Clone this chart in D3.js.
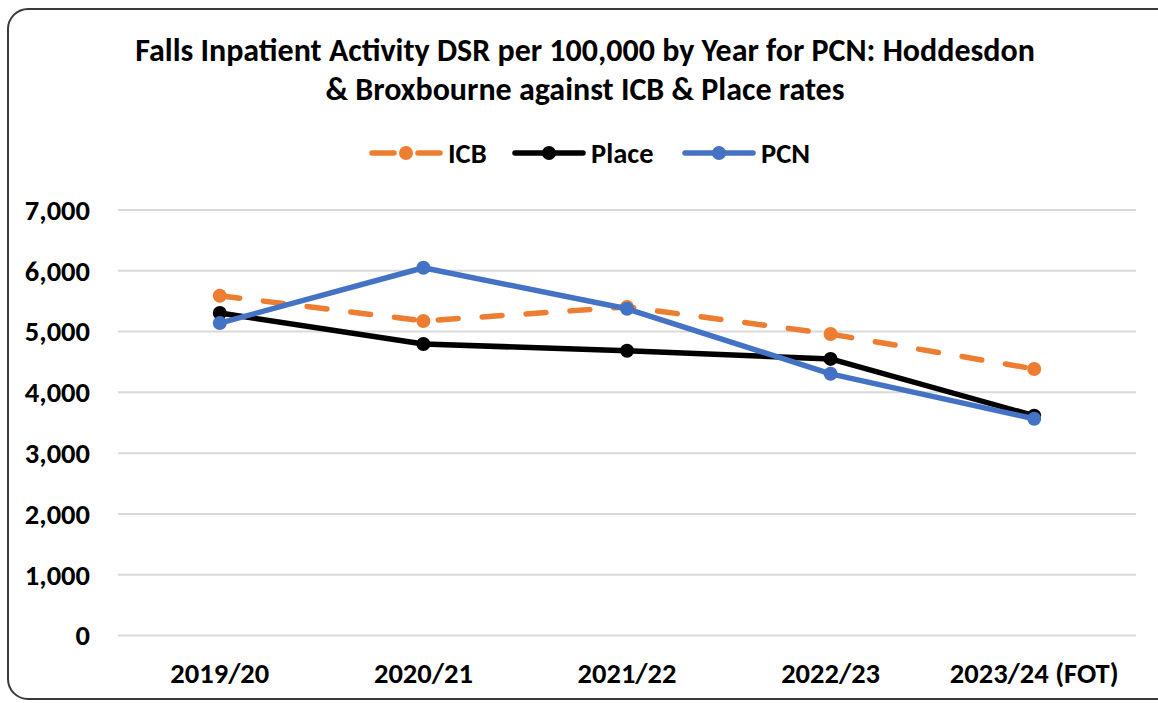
<!DOCTYPE html>
<html>
<head>
<meta charset="utf-8">
<script src="https://cdn.jsdelivr.net/npm/d3@7"></script>
<style>
  body { margin: 0; background: #fff; }
  text { font-family: Carlito, Calibri, "DejaVu Sans Condensed", "Liberation Sans Narrow", sans-serif; font-weight: bold; fill: #000; }
</style>
</head>
<body>
<div id="chart"></div>
<script>
// chart data
var years = ['2019/20', '2020/21', '2021/22', '2022/23', '2023/24 (FOT)'];
var icbRates = [5590, 5175, 5405, 4960, 4385];
var placeRates = [5305, 4795, 4685, 4550, 3615];
var pcnRates = [5140, 6050, 5375, 4305, 3565];
var yTicks = [0, 1000, 2000, 3000, 4000, 5000, 6000, 7000];

var seriesNames = ['ICB', 'Place', 'PCN'];
var seriesColors = ['#ed7d31', '#000000', '#4472c4'];
var seriesValues = [icbRates, placeRates, pcnRates];

var svgWidth = 1158;
var svgHeight = 703;

var chartMargins = { top: 210, right: 22, bottom: 67, left: 118 };
var chartWidth = svgWidth - chartMargins.left - chartMargins.right;
var chartHeight = svgHeight - chartMargins.top - chartMargins.bottom;

var svg = d3.select('#chart')
    .append('svg')
    .attr('width', svgWidth)
    .attr('height', svgHeight);

// outer rounded border
svg.append('rect')
    .attr('x', 8)
    .attr('y', 9)
    .attr('width', 1170)
    .attr('height', 690)
    .attr('rx', 20)
    .attr('fill', 'none')
    .attr('stroke', '#3a3a3a')
    .attr('stroke-width', 2);

// title
var title = svg.append('text')
    .attr('text-anchor', 'middle')
    .style('font-size', '32px');
title.append('tspan').attr('x', 585).attr('y', 61)
    .text('Falls Inpatient Activity DSR per 100,000 by Year for PCN: Hoddesdon');
title.append('tspan').attr('x', 585).attr('y', 100)
    .text('& Broxbourne against ICB & Place rates');

// legend
var legendX = [370, 513, 683];
var legend = svg.selectAll('.legend')
    .data(seriesNames)
    .enter()
    .append('g')
    .attr('class', 'legend')
    .attr('transform', function(d, i) { return 'translate(' + legendX[i] + ',153)'; });

legend.append('line')
    .attr('x1', 2).attr('x2', 70)
    .attr('stroke', function(d, i) { return seriesColors[i]; })
    .attr('stroke-width', 5.5)
    .attr('stroke-linecap', 'round')
    .attr('stroke-dasharray', function(d, i) { return i == 0 ? '22,24' : null; });
legend.append('circle')
    .attr('cx', 36).attr('r', 7)
    .attr('fill', function(d, i) { return seriesColors[i]; });
legend.append('text')
    .attr('x', function(d, i) { return i == 0 ? 78 : 78; })
    .attr('y', 10)
    .style('font-size', '28.5px')
    .text(function(d) { return d; });

var chartGroup = svg.append('g')
    .attr('transform', `translate(${chartMargins.left},${chartMargins.top})`);

var xScale = d3.scaleBand()
    .domain(years)
    .range([0, chartWidth]);

var yScale = d3.scaleLinear()
    .domain([0, 7000])
    .range([chartHeight - 0.5, 0]);

// gridlines
chartGroup.append('g')
    .selectAll('line')
    .data(yTicks)
    .enter()
    .append('line')
    .attr('x1', 0)
    .attr('x2', chartWidth)
    .attr('y1', d => yScale(d))
    .attr('y2', d => yScale(d))
    .attr('stroke', '#d9d9d9')
    .attr('stroke-width', 2);

// y axis labels
var leftAxis = d3.axisLeft(yScale)
    .tickValues(yTicks)
    .tickFormat(d3.format(','))
    .tickSize(0)
    .tickPadding(28);
var yAxis = chartGroup.append('g').call(leftAxis);
yAxis.select('.domain').remove();
yAxis.selectAll('text').style('font-size', '28.5px').attr('dy', '0.33em');

// x axis labels
var bottomAxis = d3.axisBottom(xScale).tickSize(0).tickPadding(27);
var xAxis = chartGroup.append('g')
    .attr('transform', `translate(0,${chartHeight})`)
    .call(bottomAxis);
xAxis.select('.domain').remove();
xAxis.selectAll('text').style('font-size', '28.5px');

var line = d3.line()
    .x((d, i) => xScale(years[i]) + xScale.bandwidth() / 2)
    .y(d => yScale(d));

// series, drawn ICB, Place, PCN
seriesValues.forEach(function(values, s) {
    chartGroup.append('path')
        .datum(values)
        .attr('d', line)
        .attr('fill', 'none')
        .attr('stroke', seriesColors[s])
        .attr('stroke-width', 5.5)
        .attr('stroke-linejoin', 'round')
        .attr('stroke-linecap', s == 0 ? 'round' : 'butt')
        .attr('stroke-dasharray', s == 0 ? '20,24' : null);

    chartGroup.selectAll('.dot' + s)
        .data(values)
        .enter()
        .append('circle')
        .attr('cx', (d, i) => xScale(years[i]) + xScale.bandwidth() / 2)
        .attr('cy', d => yScale(d))
        .attr('r', 7)
        .attr('fill', seriesColors[s]);
});
</script>
</body>
</html>
